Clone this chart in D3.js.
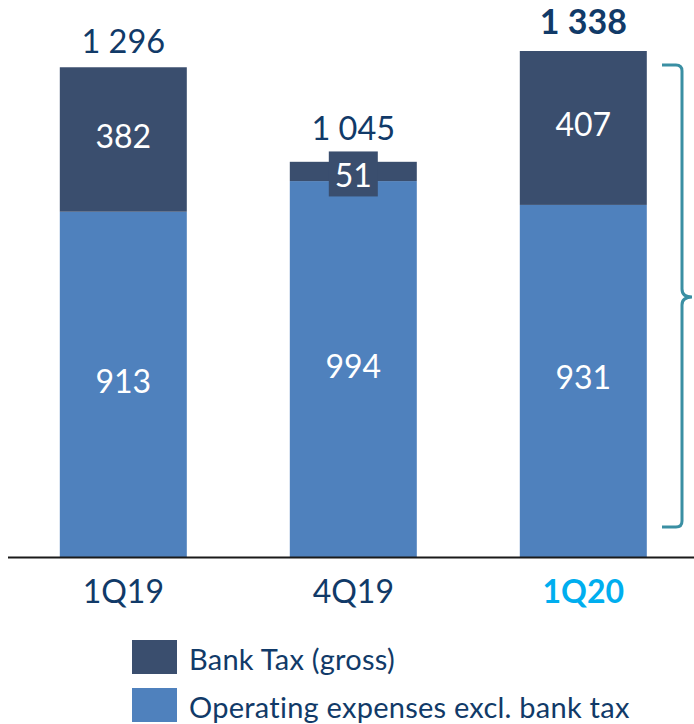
<!DOCTYPE html>
<html>
<head>
<meta charset="utf-8">
<script src="https://cdn.jsdelivr.net/npm/d3@7"></script>
<style>
  html, body { margin: 0; padding: 0; background: #fff; }
  svg { display: block; font-family: Lato, "Open Sans", sans-serif; }
</style>
</head>
<body>
<svg id="chart" width="694" height="724"></svg>
<script>
// Quarterly operating expenses, split into bank tax and the rest
const categories = ["1Q19", "4Q19", "1Q20"];
const opexExclTax = [913, 994, 931];
const bankTax = [382, 51, 407];
const totals = [1296, 1045, 1338];
const seriesNames = ["Bank Tax (gross)", "Operating expenses excl. bank tax"];

const colors = { tax: "#3a4e6e", opex: "#4f81bd", text: "#113a68", accent: "#00aeef", brace: "#3a8fa3" };

const svg = d3.select("#chart");
const baseY = 557;
const fmt = v => d3.format(",")(v).replace(/,/g, " ");

const x = d3.scaleBand().domain(categories).range([0, 706.6]).paddingInner(0.4478).paddingOuter(0.26);
const y = d3.scaleLinear().domain([0, 1338]).range([baseY, 51]);

const rows = categories.map((c, i) => ({ cat: c, opex: opexExclTax[i], tax: bankTax[i], total: totals[i] }));
const stacked = d3.stack().keys(["opex", "tax"])(rows);
const fillOf = { opex: colors.opex, tax: colors.tax };

const g = svg.append("g");
stacked.forEach(layer => {
  g.selectAll(null).data(layer).join("rect")
    .attr("x", d => x(d.data.cat))
    .attr("width", x.bandwidth())
    .attr("y", d => y(d[1]))
    .attr("height", d => y(d[0]) - y(d[1]))
    .attr("fill", fillOf[layer.key]);
});

// segment value labels
stacked.forEach(layer => {
  layer.forEach(d => {
    const v = d.data[layer.key];
    const cx = x(d.data.cat) + x.bandwidth() / 2;
    const h = y(d[0]) - y(d[1]);
    let cy = (y(d[0]) + y(d[1])) / 2 - 4;
    if (h < 40) {
      // small segment: label sits on its own dark box
      cy = (y(d[0]) + y(d[1])) / 2 + 3;
      g.append("rect")
        .attr("x", cx - 24.5).attr("width", 49)
        .attr("y", cy - 23).attr("height", 45)
        .attr("fill", fillOf[layer.key]);
    }
    g.append("text")
      .attr("x", cx).attr("y", cy)
      .attr("text-anchor", "middle")
      .attr("dominant-baseline", "central")
      .attr("fill", "#fff")
      .attr("font-size", 32)
      .text(fmt(v));
  });
});

// totals above the bars
rows.forEach((d, i) => {
  const last = i === rows.length - 1;
  const small = d.tax < 100;
  g.append("text")
    .attr("x", x(d.cat) + x.bandwidth() / 2)
    .attr("y", y(d.opex + d.tax) - (small ? 22 : (last ? 17 : 14)))
    .attr("text-anchor", "middle")
    .attr("fill", colors.text)
    .attr("font-size", last ? 34 : 32.5)
    .attr("font-weight", last ? 700 : 400)
    .text(fmt(d.total));
});

// baseline
svg.append("line")
  .attr("x1", 8).attr("x2", 694)
  .attr("y1", baseY + 0.5).attr("y2", baseY + 0.5)
  .attr("stroke", "#1a1a1a").attr("stroke-width", 2);

// category axis
const xAxis = svg.append("g")
  .attr("transform", `translate(0,${baseY})`)
  .call(d3.axisBottom(x).tickSize(0).tickPadding(23));
xAxis.select(".domain").remove();
xAxis.selectAll("text")
  .attr("font-family", "Lato, 'Open Sans', sans-serif")
  .attr("font-size", 32)
  .attr("fill", d => d === "1Q20" ? colors.accent : colors.text)
  .attr("font-weight", d => d === "1Q20" ? 700 : 400);

// curly brace next to the latest quarter
const bx = 682, braceTop = 65, braceBot = 527, braceMid = 297;
const brace = `M662,${braceTop} L${bx - 6},${braceTop} Q${bx},${braceTop} ${bx},${braceTop + 6}
  L${bx},${braceMid - 8} Q${bx},${braceMid} ${bx + 10},${braceMid}
  Q${bx},${braceMid} ${bx},${braceMid + 8}
  L${bx},${braceBot - 6} Q${bx},${braceBot} ${bx - 6},${braceBot} L662,${braceBot}`;
svg.append("path")
  .attr("d", brace)
  .attr("fill", "none")
  .attr("stroke", colors.brace)
  .attr("stroke-width", 3);

// legend
const legend = svg.append("g").attr("transform", "translate(132,640)");
const legendFills = [colors.tax, colors.opex];
seriesNames.forEach((name, i) => {
  const row = legend.append("g").attr("transform", `translate(0,${i * 48})`);
  row.append("rect").attr("width", 45).attr("height", 34).attr("fill", legendFills[i]);
  row.append("text")
    .attr("x", 57).attr("y", 18)
    .attr("dominant-baseline", "central")
    .attr("font-size", 29)
    .attr("letter-spacing", 0.25)
    .attr("fill", colors.text)
    .text(name);
});
</script>
</body>
</html>
